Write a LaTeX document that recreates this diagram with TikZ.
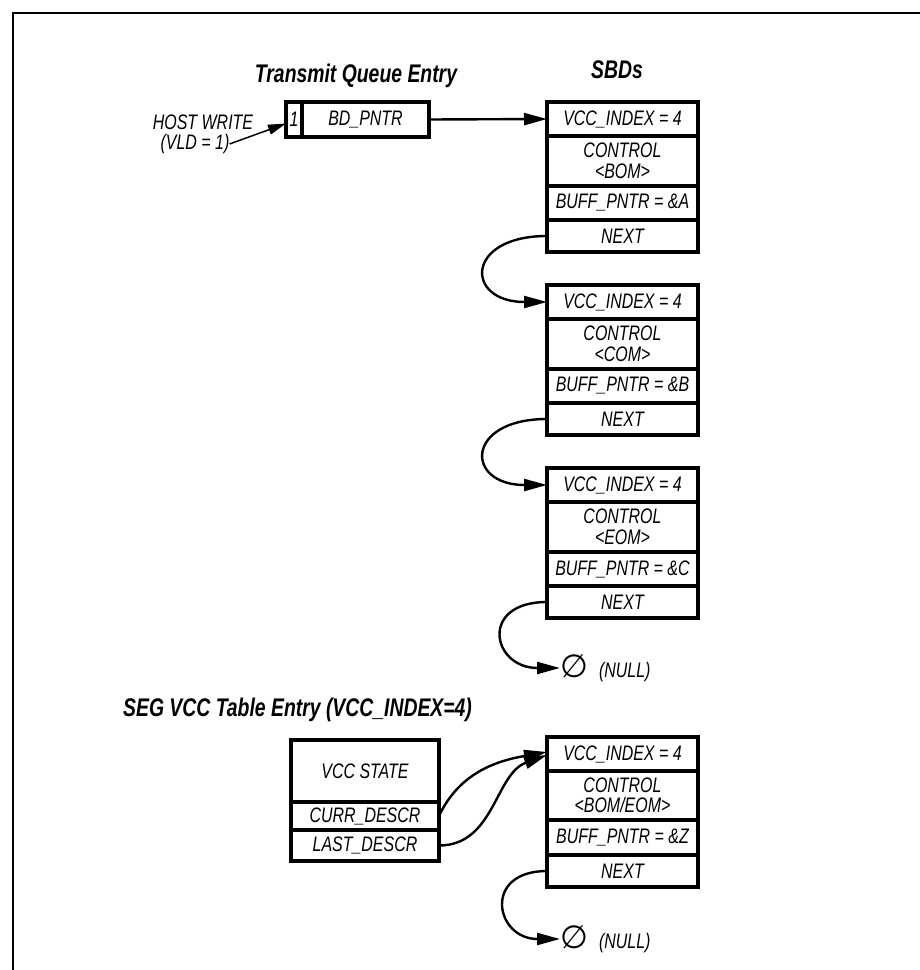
\documentclass[tikz,border=0pt]{standalone}
\usepackage{fontspec}
\setmainfont[FakeStretch=0.76]{Liberation Sans}
\newfontfamily\nullsymfont{DejaVu Sans}
\usepackage{tikz}
\usetikzlibrary{arrows.meta,positioning}
\definecolor{inkblack}{RGB}{0,0,0}
\newcommand{\cellfont}{\fontsize{21}{20.5}\selectfont\itshape}
\newcommand{\hdrfont}{\fontsize{25.5}{26}\selectfont\bfseries\itshape}
\tikzset{
  cell/.style ={rectangle, draw=inkblack, line width=3.2pt, inner sep=0pt, outer sep=0pt,
                minimum width=151pt, align=center, font=\cellfont},
  qcell/.style={cell, minimum height=35pt},
  vcell/.style={cell, minimum width=148pt},
  hdr/.style  ={font=\hdrfont, inner sep=0pt},
  lbl/.style  ={font=\cellfont, inner sep=0pt, align=center},
  ptr/.style  ={-{Triangle[length=23pt,width=12pt]}, line width=2.4pt, draw=inkblack},
  frame/.style={line width=2.8pt, draw=inkblack}
}

\begin{document}
\begin{tikzpicture}[x=1pt, y=-1pt, font=\cellfont]
\useasboundingbox (0,0) rectangle (920,970);
\draw[frame] (920,13) -- (13,13) -- (13,970);
% transmit queue entry
\node[hdr] (qtitle) at (356,76) {Transmit Queue Entry};
\node[qcell, minimum width=16pt] (qvld) at (294,119.5) {1};
\node[qcell, minimum width=127pt, right=0pt of qvld] (qptr) {BD\_PNTR};
\node[lbl] (hostw) at (203,122) {HOST WRITE};
\node[lbl] (vldone) at (195,144) {(VLD = 1)};
\draw[ptr, line width=1.5pt, -{Triangle[length=18pt,width=10pt]}]
   (vldone.east) -- ([yshift=-4pt]qvld.west);
% SBD chain
\node[hdr] (sbdtitle) at (617,70) {SBDs};
\node[cell, minimum height=34pt] (aidx) at (622.5,119) {VCC\_INDEX = 4};
\node[cell, minimum height=50pt, below=0pt of aidx] (actl) {CONTROL\\<BOM>};
\node[cell, minimum height=34pt, below=0pt of actl] (abuf) {BUFF\_PNTR = \&A};
\node[cell, minimum height=32pt, below=0pt of abuf] (anx) {NEXT};
\node[cell, minimum height=34pt, below=33pt of anx] (bidx) {VCC\_INDEX = 4};
\node[cell, minimum height=50pt, below=0pt of bidx] (bctl) {CONTROL\\<COM>};
\node[cell, minimum height=34pt, below=0pt of bctl] (bbuf) {BUFF\_PNTR = \&B};
\node[cell, minimum height=32pt, below=0pt of bbuf] (bnx) {NEXT};
\node[cell, minimum height=34pt, below=33pt of bnx] (cidx) {VCC\_INDEX = 4};
\node[cell, minimum height=50pt, below=0pt of cidx] (cctl) {CONTROL\\<EOM>};
\node[cell, minimum height=34pt, below=0pt of cctl] (cbuf) {BUFF\_PNTR = \&C};
\node[cell, minimum height=32pt, below=0pt of cbuf] (cnx) {NEXT};
\node[lbl, anchor=west] (nullc) at ([xshift=13pt, yshift=-50pt]cnx.south west)
   {{\nullsymfont\fontsize{32}{32}\selectfont ∅}\hspace{11pt}(NULL)};
\draw[ptr] (qptr.east) -- (aidx.west);
\draw[ptr] (anx.west) to[out=180, in=180, looseness=3.2] (bidx.west);
\draw[ptr] (bnx.west) to[out=180, in=180, looseness=3.2] (cidx.west);
\draw[ptr] (cnx.west) to[out=180, in=180, looseness=2.6] (nullc.west);
% seg vcc table entry
\node[hdr, anchor=west] (segtitle) at (123,710) {SEG VCC Table Entry (VCC\_INDEX=4)};
\node[vcell, minimum height=62pt] (vstate) at (365,771) {VCC STATE};
\node[vcell, minimum height=28pt, below=0pt of vstate] (vcur) {CURR\_DESCR};
\node[vcell, minimum height=31pt, below=0pt of vcur] (vlast) {LAST\_DESCR};
\node[cell, minimum height=34pt] (zidx) at (622.5,754) {VCC\_INDEX = 4};
\node[cell, minimum height=49pt, below=0pt of zidx] (zctl) {CONTROL\\<BOM/EOM>};
\node[cell, minimum height=35pt, below=0pt of zctl] (zbuf) {BUFF\_PNTR = \&Z};
\node[cell, minimum height=32pt, below=0pt of zbuf] (znx) {NEXT};
\node[lbl, anchor=west] (nullz) at ([xshift=13pt, yshift=-52pt]znx.south west)
   {{\nullsymfont\fontsize{32}{32}\selectfont ∅}\hspace{11pt}(NULL)};
\draw[ptr] (vcur.east) to[out=65, in=190] ([yshift=2pt]zidx.west);
\draw[ptr] (vlast.east) to[out=0, in=200] ([yshift=-1pt]zidx.west);
\draw[ptr] (znx.west) to[out=180, in=180, looseness=2.4] (nullz.west);
\end{tikzpicture}
\end{document}
